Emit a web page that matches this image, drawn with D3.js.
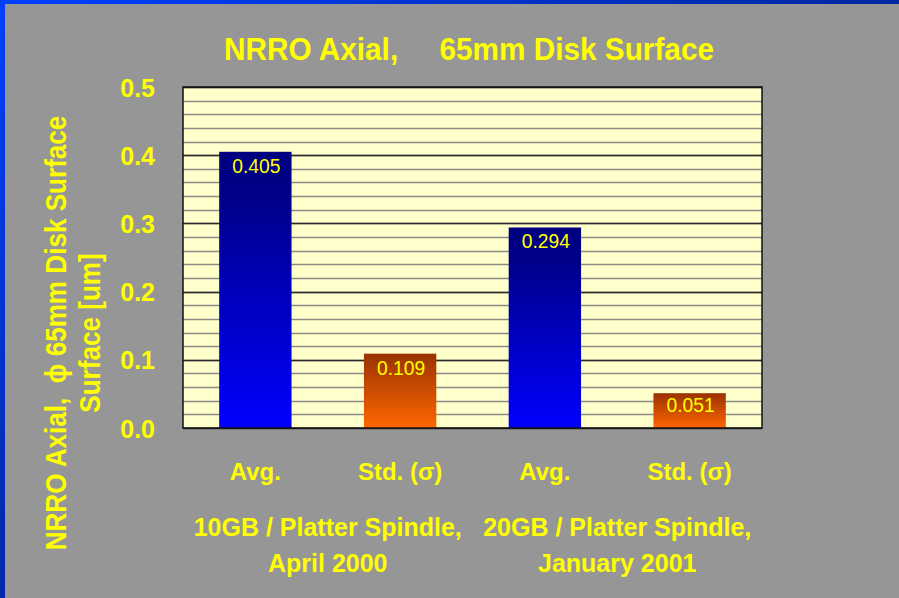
<!DOCTYPE html>
<html><head><meta charset="utf-8">
<script src="https://cdn.jsdelivr.net/npm/d3@7/dist/d3.min.js"></script>
<style>
html,body{margin:0;padding:0;background:#969696;}
svg{display:block;}
text{font-family:"Liberation Sans",Arial,sans-serif;}
</style></head>
<body><svg id="c" width="899" height="598"></svg>
<script>
const categories = ["Avg.", "Std. (σ)", "Avg.", "Std. (σ)"];
const values = [0.405, 0.109, 0.294, 0.051];
const seriesType = ["avg", "std", "avg", "std"];
const groupLabels = [["10GB / Platter Spindle,", "April 2000"], ["20GB / Platter Spindle,", "January 2001"]];
const yTicks = [0, 0.1, 0.2, 0.3, 0.4, 0.5];
const minorTicks = d3.range(0, 0.5001, 0.02);
const title = "NRRO Axial,     65mm Disk Surface";
const yTitle = ["NRRO Axial,  ϕ 65mm Disk Surface", "Surface [um]"];

const W = 899, H = 598;
const svg = d3.select("#c");
const defs = svg.append("defs");
const gl = defs.append("linearGradient").attr("id","gl").attr("x1",0).attr("y1",0).attr("x2",0).attr("y2",1);
gl.append("stop").attr("offset",0).attr("stop-color","#0040ff");
gl.append("stop").attr("offset",1).attr("stop-color","#0028a8");
const gt = defs.append("linearGradient").attr("id","gt").attr("x1",0).attr("y1",0).attr("x2",1).attr("y2",0);
gt.append("stop").attr("offset",0).attr("stop-color","#0040ff");
gt.append("stop").attr("offset",1).attr("stop-color","#0028a0");
const ga = defs.append("linearGradient").attr("id","ga").attr("x1",0).attr("y1",0).attr("x2",0).attr("y2",1);
ga.append("stop").attr("offset",0).attr("stop-color","#000080");
ga.append("stop").attr("offset",0.15).attr("stop-color","#000088");
ga.append("stop").attr("offset",1).attr("stop-color","#0000ff");
const gs = defs.append("linearGradient").attr("id","gs").attr("x1",0).attr("y1",0).attr("x2",0).attr("y2",1);
gs.append("stop").attr("offset",0).attr("stop-color","#993300");
gs.append("stop").attr("offset",1).attr("stop-color","#ff6600");

svg.append("rect").attr("width",W).attr("height",H).attr("fill","#969696");
svg.append("rect").attr("x",0).attr("y",0).attr("width",W).attr("height",4).attr("fill","url(#gt)");
svg.append("rect").attr("x",0).attr("y",0).attr("width",5).attr("height",H).attr("fill","url(#gl)");

const L = 183, R = 762, T = 87, B = 428;
const x = d3.scaleBand().domain(d3.range(categories.length)).range([L, R]).paddingInner(0.5).paddingOuter(0.25);
const y = d3.scaleLinear().domain([0, 0.5]).range([B, T]);

svg.append("rect").attr("x",L).attr("y",T).attr("width",R-L).attr("height",B-T).attr("fill","#ffffcc");

// minor grid
svg.append("g").selectAll("line").data(minorTicks).join("line")
  .attr("x1",L).attr("x2",R).attr("y1",d=>Math.round(y(d))+0.5).attr("y2",d=>Math.round(y(d))+0.5)
  .attr("stroke","#8c8c86").attr("stroke-width",1.5);
// major grid
svg.append("g").selectAll("line").data(yTicks).join("line")
  .attr("x1",L).attr("x2",R).attr("y1",d=>Math.round(y(d))+0.5).attr("y2",d=>Math.round(y(d))+0.5)
  .attr("stroke","#2a2a2a").attr("stroke-width",1.5);

// bars
svg.append("g").selectAll("rect").data(values).join("rect")
  .attr("x",(d,i)=>x(i)).attr("width",x.bandwidth())
  .attr("y",d=>y(d)).attr("height",d=>B-y(d))
  .attr("fill",(d,i)=>seriesType[i]==="avg"?"url(#ga)":"url(#gs)");

// border
svg.append("rect").attr("x",L).attr("y",T).attr("width",R-L).attr("height",B-T)
  .attr("fill","none").attr("stroke","#111").attr("stroke-width",1.5);

// value labels
svg.append("g").selectAll("g").data(values).join("g")
  .attr("transform",(d,i)=>`translate(${x(i)+x.bandwidth()/2+1},${Math.min(y(d)+21, B-16)}) scale(0.92,1)`)
  .append("text")
  .attr("text-anchor","middle").attr("fill","#ffff00").attr("font-size",21)
  .text(d=>d.toFixed(3));

// y axis
const yAxis = d3.axisLeft(y).tickValues(yTicks).tickFormat(d3.format(".1f")).tickSize(0).tickPadding(0);
const ga2 = svg.append("g").attr("transform",`translate(155,0)`).call(yAxis);
ga2.select(".domain").remove();
ga2.selectAll("text").attr("fill","#ffff00").attr("font-size",25).attr("font-weight","bold")
  .attr("font-family","'Liberation Sans',Arial,sans-serif").attr("dy","0.36em");

// x category labels
svg.append("g").selectAll("text").data(categories).join("text")
  .attr("x",(d,i)=>x(i)+x.bandwidth()/2).attr("y",480)
  .attr("text-anchor","middle").attr("fill","#ffff00").attr("font-size",24).attr("font-weight","bold")
  .text(d=>d);

// group labels
groupLabels.forEach((lines,gi)=>{
  const cx = (x(gi*2)+x(gi*2+1)+x.bandwidth())/2;
  lines.forEach((t,li)=>{
    svg.append("text").attr("x",cx).attr("y",536+li*36).attr("text-anchor","middle")
      .attr("fill","#ffff00").attr("font-size",25).attr("font-weight","bold").text(t);
  });
});

// title
svg.append("g").attr("transform","translate(469,60) scale(0.93,1)")
  .append("text").attr("text-anchor","middle")
  .attr("fill","#ffff00").attr("font-size",32).attr("font-weight","bold")
  .style("white-space","pre").text(title);

// y title
yTitle.forEach((t,i)=>{
  svg.append("g").attr("transform",`translate(${66+i*34},333) rotate(-90) scale(0.9,1)`)
    .append("text")
    .attr("text-anchor","middle").attr("fill","#ffff00").attr("font-size",29).attr("font-weight","bold")
    .style("white-space","pre").text(t);
});
</script></body></html>
